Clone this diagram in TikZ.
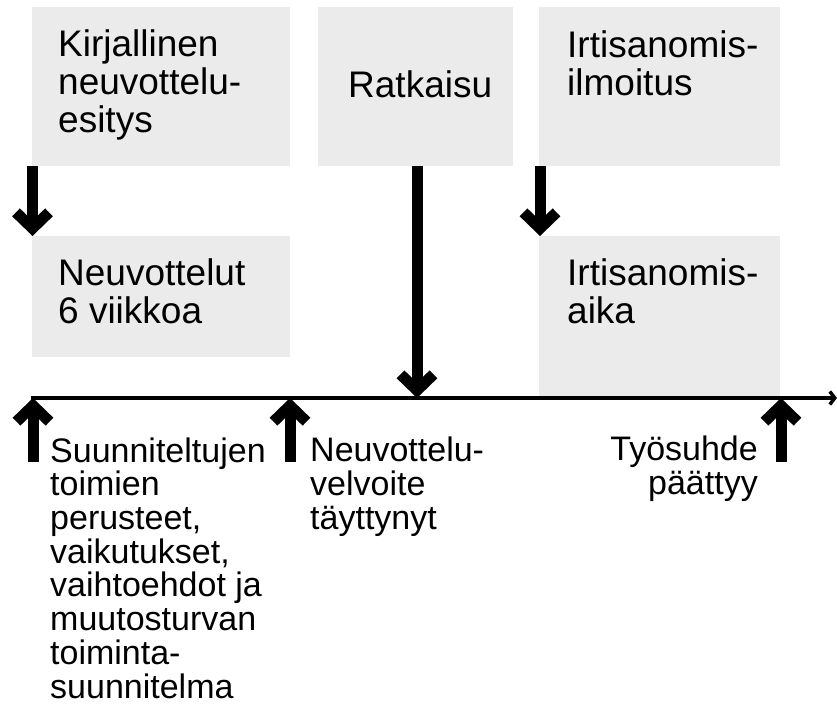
\documentclass[tikz,border=0pt]{standalone}
\usepackage{fontspec}
\setmainfont{Liberation Sans}
\usetikzlibrary{arrows.meta}
\definecolor{boxgray}{RGB}{235,235,235}
\tikzset{
  box/.style={fill=boxgray, draw=none, anchor=north west, inner sep=0pt},
  % multi-line texts are placed by the baseline of their last line
  boxtext/.style={anchor=base west, inner sep=0pt, align=left,
    font=\fontsize{37}{37.6}\selectfont},
  lowtext/.style={anchor=base west, inner sep=0pt, align=left,
    font=\fontsize{34}{33.7}\selectfont},
  bigarrow/.style={line width=11pt, line join=miter,
    -{Straight Barb[length=16pt,width=33pt,line join=miter]}},
  timeline/.style={line width=3.5pt,
    -{Straight Barb[length=5pt,width=13pt]}}
}
\begin{document}
\begin{tikzpicture}[x=1pt,y=-1pt]
\useasboundingbox (0,0) rectangle (837,704);

% grey boxes
\node[box, minimum width=258pt, minimum height=159pt] (esitys) at (32,7) {};
\node[box, minimum width=258pt, minimum height=121pt] (neuv) at (32,236) {};
\node[box, minimum width=195pt, minimum height=159pt] (ratk) at (318,7) {};
\node[box, minimum width=241pt, minimum height=159pt] (ilm) at (539,7) {};
\node[box, minimum width=241pt, minimum height=161pt] (aika) at (539,236) {};

% box texts
\node[boxtext] (t1) at (58,132) {Kirjallinen\\neuvottelu-\\esitys};
\node[boxtext] (t2) at (58,323) {Neuvottelut\\6 viikkoa};
\node[boxtext] (t3) at (348,97) {Ratkaisu};
\node[boxtext] (t4) at (567,95) {Irtisanomis-\\ilmoitus};
\node[boxtext] (t5) at (567,323) {Irtisanomis-\\aika};

% time axis
\coordinate (axstart) at (31,398);
\coordinate (axend) at (837,398);
\draw[timeline] (axstart) -- (axend);

% points on the axis
\coordinate (p1) at (33,398);
\coordinate (p2) at (290,398);
\coordinate (p3) at (417,398);
\coordinate (p4) at (781,398);
\coordinate (q1) at (33,462);
\coordinate (q2) at (290,462);
\coordinate (q4) at (781,462);

% arrows between boxes and to the axis
\draw[bigarrow] (esitys.south west) ++(0.5,0) coordinate (a1s) -- (a1s |- neuv.north);
\draw[bigarrow] (ilm.south west) ++(1,0) coordinate (a2s) -- (a2s |- aika.north);
\draw[bigarrow] (ratk.south -| p3) -- (p3);
\draw[bigarrow] (q1) -- (p1);
\draw[bigarrow] (q2) -- (p2);
\draw[bigarrow] (q4) -- (p4);

% labels under the axis
\node[lowtext] (l1) at (50,698) {Suunniteltujen\\toimien\\perusteet,\\vaikutukset,\\vaihtoehdot ja\\muutosturvan\\toiminta-\\suunnitelma};
\node[lowtext] (l2) at (310,529) {Neuvottelu-\\velvoite\\täyttynyt};
\node[lowtext, align=right, anchor=base east] (l3) at (758,494) {Työsuhde\\päättyy};
\end{tikzpicture}
\end{document}
